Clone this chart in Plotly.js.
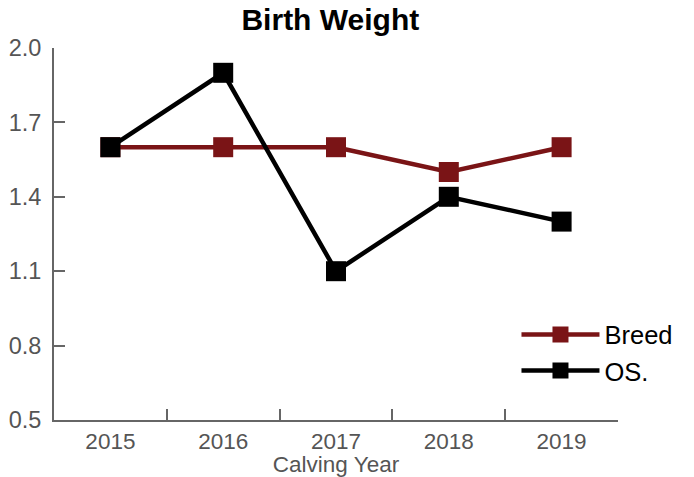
<!DOCTYPE html>
<html>
<head>
<meta charset="utf-8">
<script src="https://cdn.plot.ly/plotly-3.0.1.min.js"></script>
<style>
  html, body { margin: 0; padding: 0; background: #fff; }
  #chart { width: 694px; height: 477px; }
</style>
</head>
<body>
<div id="chart"></div>
<script>
// calving years and the two series
const years = ["2015", "2016", "2017", "2018", "2019"];
const breed = [1.6, 1.6, 1.6, 1.5, 1.6];
const os = [1.6, 1.9, 1.1, 1.4, 1.3];
const yTicks = [0.5, 0.8, 1.1, 1.4, 1.7, 2.0];

const font = "Liberation Sans, Arial, Helvetica, sans-serif";

let data = [
    {
        type: "scatter",
        mode: "lines+markers",
        name: "Breed",
        x: years,
        y: breed,
        line: { color: "#7a1416", width: 4.5 },
        marker: { symbol: "square", size: 20, color: "#7a1416" }
    },
    {
        type: "scatter",
        mode: "lines+markers",
        name: "OS.",
        x: years,
        y: os,
        line: { color: "#000000", width: 4.5 },
        marker: { symbol: "square", size: 20, color: "#000000" }
    }
];

let layout = {
    width: 694,
    height: 477,
    margin: { l: 54, r: 76, t: 48, b: 57 },
    paper_bgcolor: "#fff",
    plot_bgcolor: "#fff",
    font: { family: font, color: "#555" },
    title: {
        text: "<b>Birth Weight</b>",
        font: { family: font, size: 30, color: "#000" },
        x: 0.476,
        xanchor: "center",
        y: 0.96,
        yanchor: "middle"
    },
    xaxis: {
        type: "category",
        range: [-0.5, 4.5],
        tickson: "boundaries",
        ticks: "inside",
        ticklen: 11,
        tickwidth: 2,
        tickcolor: "#666",
        showline: true,
        linecolor: "#666",
        linewidth: 2,
        showgrid: false,
        zeroline: false,
        tickfont: { family: font, size: 22.5, color: "#555" },
        title: {
            text: "Calving Year",
            font: { family: font, size: 22.5, color: "#555" },
            standoff: 5
        }
    },
    yaxis: {
        range: [0.5, 2.0],
        tickvals: yTicks,
        ticktext: yTicks.map(v => v.toFixed(1)),
        ticks: "inside",
        ticklen: 11,
        tickwidth: 2,
        tickcolor: "#666",
        showline: true,
        linecolor: "#666",
        linewidth: 2,
        showgrid: false,
        zeroline: false,
        ticklabelstandoff: 6,
        tickfont: { family: font, size: 23.5, color: "#555" }
    },
    legend: {
        x: 0.82,
        xanchor: "left",
        y: 0.292,
        yanchor: "top",
        bgcolor: "rgba(0,0,0,0)",
        itemwidth: 78,
        tracegroupgap: 0,
        font: { family: font, size: 25.5, color: "#000" }
    },
    showlegend: true
};

Plotly.newPlot("chart", data, layout, { displayModeBar: false });
</script>
</body>
</html>
